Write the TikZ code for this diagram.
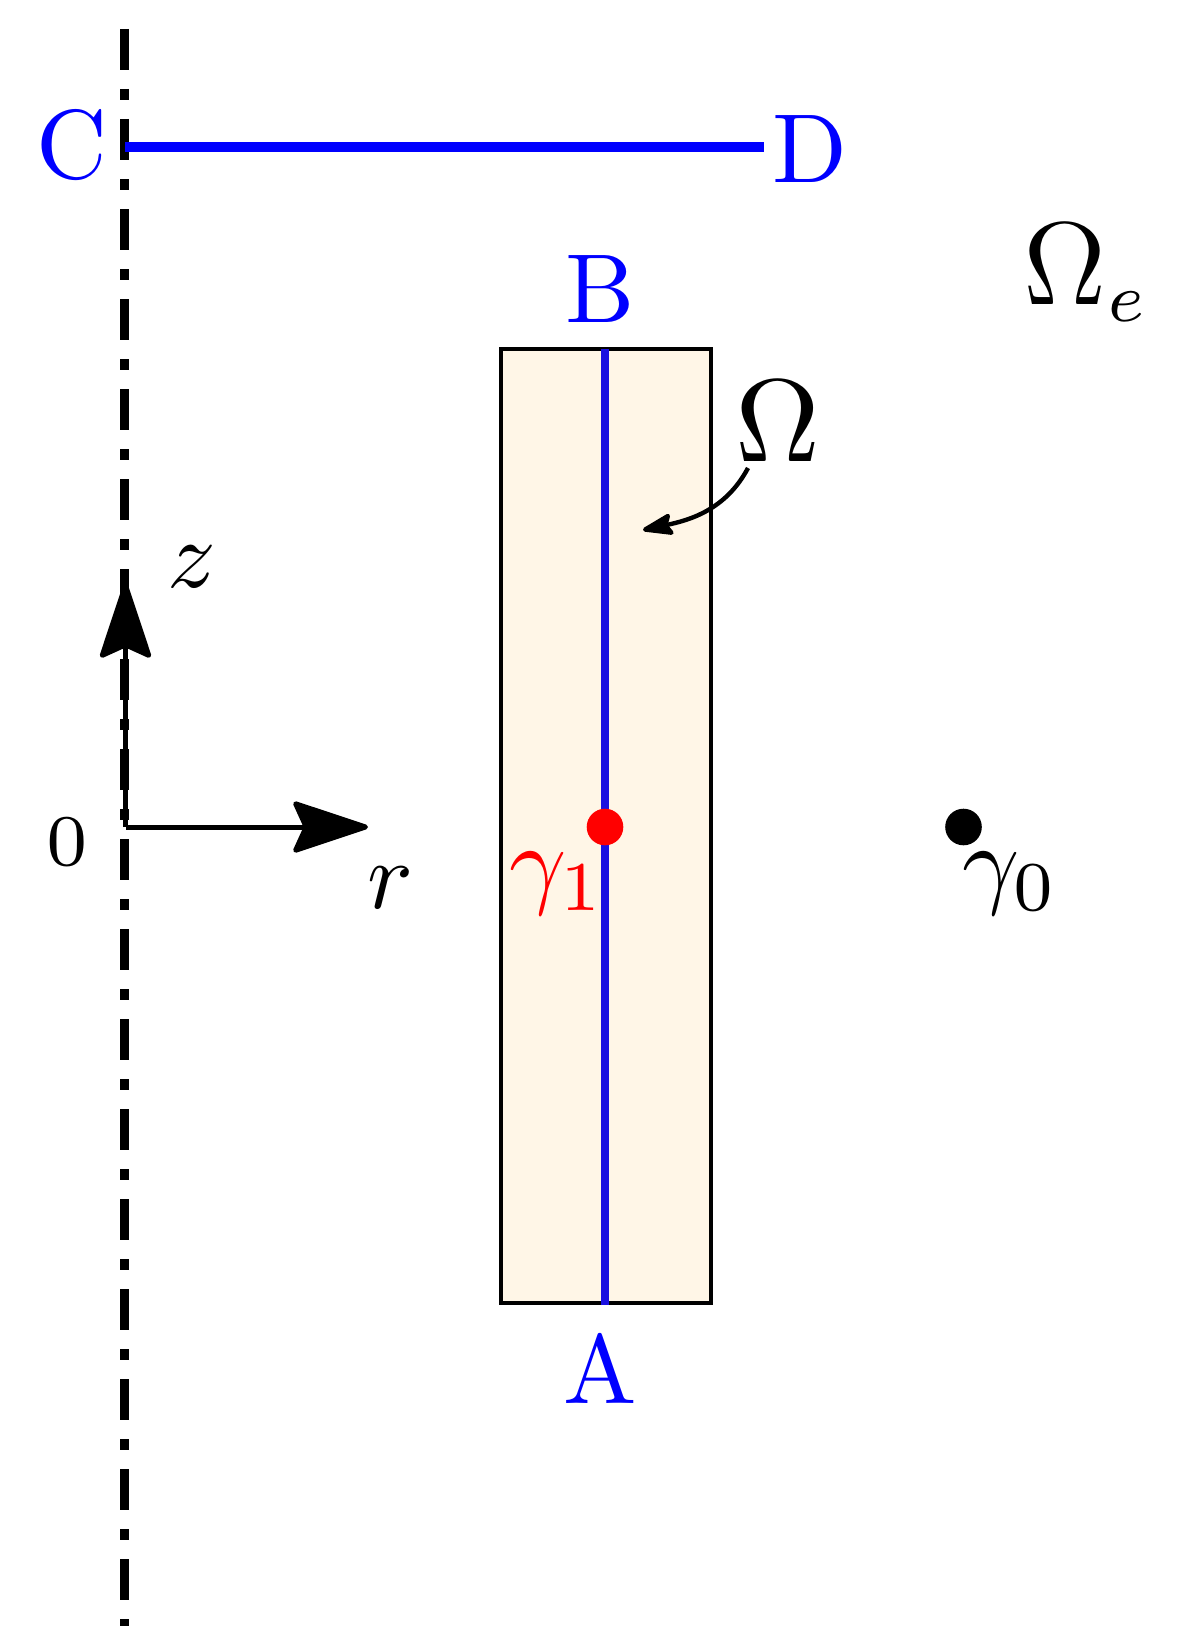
\documentclass[tikz,border=0pt]{standalone}
\usepackage{amsmath}
\usetikzlibrary{arrows.meta}
\definecolor{slab}{RGB}{255,246,231}
\definecolor{wire}{RGB}{26,16,224}
\DeclareMathSizes{12}{12}{7}{5}

\begin{document}
\begin{tikzpicture}[x=0.5pt,y=-0.5pt,
    lab/.style={inner sep=0pt,anchor=base},
    pointlab/.style={lab,blue,scale=4.9},
    mathlab/.style={lab,scale=5.87},
    smalllab/.style={lab,scale=4.8},
    gammalab/.style={lab,anchor=base west,scale=5},
    dotmark/.style={circle,fill,inner sep=0pt,minimum size=18.3pt},
    axisline/.style={line width=2.5pt,-{Stealth[length=41pt,width=27pt,inset=6pt,round]}}]
  \useasboundingbox (0,0) rectangle (1194,1643);
  % symmetry axis
  \coordinate (axistop) at (124.5,29);
  \coordinate (axisbot) at (124.5,1626);
  \draw[line width=4.7pt,dash pattern=on 20.5pt off 9.5pt on 5.5pt off 9.5pt] (axistop) -- (axisbot);
  % the domain
  \coordinate (slabnw) at (501,349);
  \coordinate (slabse) at (711,1303);
  \draw[fill=slab,line width=2pt] (slabnw) rectangle (slabse);
  % segments
  \coordinate (segb) at (605,349);
  \coordinate (sega) at (605,1305);
  \coordinate (segc) at (125,147);
  \coordinate (segd) at (764,147);
  \draw[wire,line width=4.3pt] (sega) -- (segb);
  \draw[blue,line width=4.5pt] (segc) -- (segd);
  % coordinate frame
  \coordinate (orig) at (125.5,827);
  \coordinate (ztip) at (125.5,583);
  \coordinate (rtip) at (368,827);
  \draw[axisline] (orig) -- (ztip);
  \draw[axisline] (orig) -- (rtip);
  % labels
  \node[pointlab] (C) at (72,178) {C};
  \node[pointlab] (D) at (810,183) {D};
  \node[pointlab] (B) at (600,322) {B};
  \node[pointlab] (A) at (600,1403) {A};
  \node[mathlab] (om) at (778,461) {$\Omega$};
  \node[lab,anchor=base west,scale=4.9,font=\fontsize{12}{12}\selectfont] (ome) at (1022,304) {$\Omega_e$};
  \node[smalllab] (zlab) at (192,587) {$z$};
  \node[smalllab] (rlab) at (390,908) {$r$};
  \node[lab,scale=5.2] (zero) at (67,865) {$\scriptstyle 0$};
  \node[gammalab,red] (g1) at (507,895) {$\gamma_1$};
  \node[gammalab] (g0) at (960,895) {$\gamma_0$};
  \node[dotmark,red] (p1) at (605,827) {};
  \node[dotmark] (p0) at (963.5,827) {};
  % pointer to the domain
  \coordinate (omstart) at (748,468);
  \coordinate (omend) at (643,530);
  \draw[line width=2.2pt,-{Stealth[length=18pt,width=12pt,inset=3pt,round]}] (omstart) to[out=-118,in=12] (omend);
\end{tikzpicture}
\end{document}
